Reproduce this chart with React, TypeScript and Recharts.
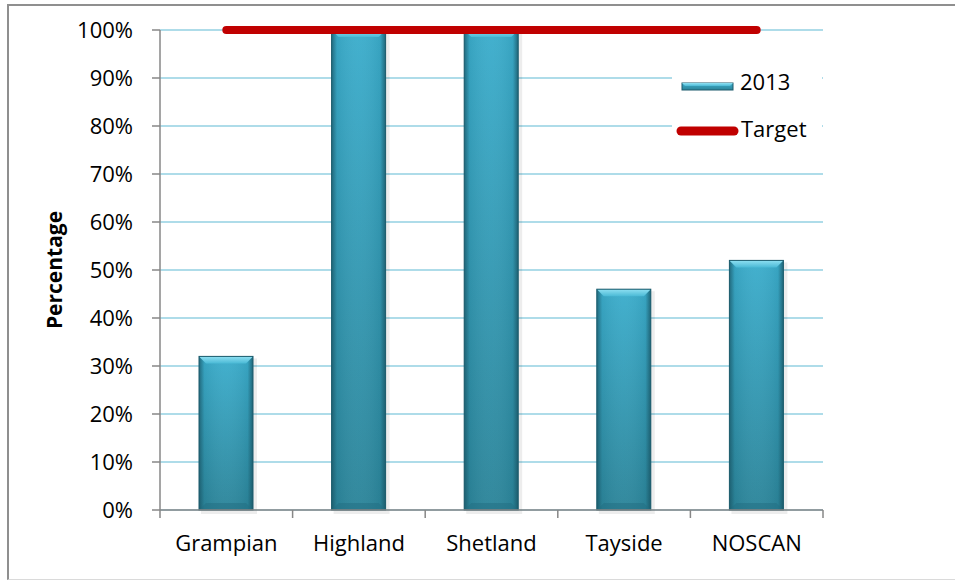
import React from "react";
import {
  ComposedChart, Bar, Line, XAxis, YAxis, CartesianGrid,
} from "recharts";

const regions = ["Grampian", "Highland", "Shetland", "Tayside", "NOSCAN"];
const values2013 = [32, 100, 100, 46, 52];
const targetValues = [100, 100, 100, 100, 100];
const yTicks = [0, 10, 20, 30, 40, 50, 60, 70, 80, 90, 100];

const data = regions.map((region, i) => ({
  region,
  y2013: values2013[i],
  target: targetValues[i],
}));

const W = 955;
const H = 581;
// axis sizes are added on top of these margins
const M = { top: 30, right: 132, bottom: 0, left: 0 };
const Y_AXIS_W = 160;
const X_AXIS_H = 71;
const X_TICK_SIZE = 8;
const X_TICK_MARGIN = 17;
const BAND = (W - M.right - M.left - Y_AXIS_W) / regions.length;

const FONT = "'Open Sans', sans-serif";
const AXIS_GREY = "#878787";
const GRID_BLUE = "#93d1e2";
const TARGET_RED = "#c00000";

// bevelled column in the Excel style
function BevelBar(props: any) {
  const { x, y, width, height } = props;
  if (!height || height <= 0) return null;
  const b = Math.min(7, height / 2);
  return (
    <g>
      <rect x={x + 2} y={y + 2} width={width + 2} height={height + 2} fill="#000" opacity={0.07} />
      <rect x={x} y={y} width={width} height={height} fill="url(#barBody)" />
      <rect x={x} y={y} width={width} height={height} fill="url(#barEdge)" />
      <polygon
        points={`${x},${y} ${x + width},${y} ${x + width - b},${y + b} ${x + b},${y + b}`}
        fill="url(#barTop)"
      />
      <polygon
        points={`${x},${y + height} ${x + width},${y + height} ${x + width - b},${y + height - b} ${x + b},${y + height - b}`}
        fill="#236f83"
        opacity={0.55}
      />
      <rect x={x} y={y} width={width} height={height} fill="none" stroke="#1c5b6c" strokeWidth={1} />
    </g>
  );
}

// category labels with tick marks on the band boundaries
function CategoryTick(props: any) {
  const { x, y, payload, index } = props;
  const axisY = y - X_TICK_SIZE - X_TICK_MARGIN;
  const left = x - BAND / 2;
  const right = x + BAND / 2;
  return (
    <g>
      <line x1={left} y1={axisY} x2={left} y2={axisY + X_TICK_SIZE} stroke={AXIS_GREY} strokeWidth={1.5} />
      {index === regions.length - 1 && (
        <line x1={right} y1={axisY} x2={right} y2={axisY + X_TICK_SIZE} stroke={AXIS_GREY} strokeWidth={1.5} />
      )}
      <text x={x} y={y} dy="0.71em" textAnchor="middle" fontSize={22} fontFamily={FONT} fill="#000">
        {payload.value}
      </text>
    </g>
  );
}

function LegendBox() {
  return (
    <svg width={150} height={88} style={{ display: "block" }}>
      <g transform="translate(10,19)">
        <rect x={0} y={0} width={51} height={7} fill="url(#barBody)" stroke="#1c5b6c" strokeWidth={1} />
        <polygon points="0,0 51,0 48,3 3,3" fill="url(#barTop)" />
      </g>
      <text x={68} y={26} fontSize={22} fontFamily={FONT} fill="#000">2013</text>
      <line x1={9} y1={67} x2={62} y2={67} stroke={TARGET_RED} strokeWidth={9} strokeLinecap="round" />
      <text x={69} y={73} fontSize={22} fontFamily={FONT} fill="#000">Target</text>
    </svg>
  );
}

export default function App() {
  return (
    <div style={{ position: "absolute", left: 0, top: 0, width: W, height: H, background: "#fff", fontFamily: FONT }}>
      <div
        style={{
          position: "absolute", left: 7, top: 4, right: -5, bottom: 1,
          borderLeft: "2px solid #8f8f8f", borderTop: "2px solid #8f8f8f", borderBottom: "1px solid #dadada",
        }}
      />
      <ComposedChart width={W} height={H} data={data} margin={M}>
        <defs>
          <linearGradient id="barBody" x1="0" y1="0" x2="0" y2="1">
            <stop offset="0%" stopColor="#3badcc" />
            <stop offset="100%" stopColor="#2b8499" />
          </linearGradient>
          <linearGradient id="barEdge" x1="0" y1="0" x2="1" y2="0">
            <stop offset="0%" stopColor="#174f5e" stopOpacity={0.7} />
            <stop offset="10%" stopColor="#174f5e" stopOpacity={0.1} />
            <stop offset="50%" stopColor="#ffffff" stopOpacity={0.04} />
            <stop offset="90%" stopColor="#174f5e" stopOpacity={0.1} />
            <stop offset="100%" stopColor="#174f5e" stopOpacity={0.75} />
          </linearGradient>
          <linearGradient id="barTop" x1="0" y1="0" x2="0" y2="1">
            <stop offset="0%" stopColor="#8fe0f2" />
            <stop offset="100%" stopColor="#4bbad6" />
          </linearGradient>
        </defs>
        <CartesianGrid vertical={false} stroke={GRID_BLUE} strokeWidth={1.5} />
        <XAxis
          dataKey="region"
          stroke={AXIS_GREY}
          strokeWidth={1.5}
          tickLine={false}
          tickSize={X_TICK_SIZE}
          tickMargin={X_TICK_MARGIN}
          height={X_AXIS_H}
          tick={<CategoryTick />}
          interval={0}
        />
        <YAxis
          width={Y_AXIS_W}
          domain={[0, 100]}
          ticks={yTicks}
          tickFormatter={(v) => `${v}%`}
          stroke={AXIS_GREY}
          strokeWidth={1.5}
          tickSize={8}
          tickMargin={19}
          tick={{ fill: "#000", fontSize: 22, fontFamily: FONT }}
          label={({ viewBox }: any) => (
            <text
              x={54}
              y={viewBox.y + viewBox.height / 2}
              transform={`rotate(-90, 54, ${viewBox.y + viewBox.height / 2})`}
              textAnchor="middle"
              dominantBaseline="central"
              fontSize={21}
              fontWeight="bold"
              fontFamily={FONT}
              fill="#000"
            >
              Percentage
            </text>
          )}
        />
        <Bar dataKey="y2013" name="2013" barSize={54} shape={<BevelBar />} isAnimationActive={false} />
        <Line
          dataKey="target"
          name="Target"
          stroke={TARGET_RED}
          strokeWidth={8}
          strokeLinecap="round"
          dot={false}
          activeDot={false}
          isAnimationActive={false}
        />
      </ComposedChart>
      <div style={{ position: "absolute", left: 672, top: 64, width: 150, height: 88, background: "#fff" }}>
        <LegendBox />
      </div>
    </div>
  );
}
